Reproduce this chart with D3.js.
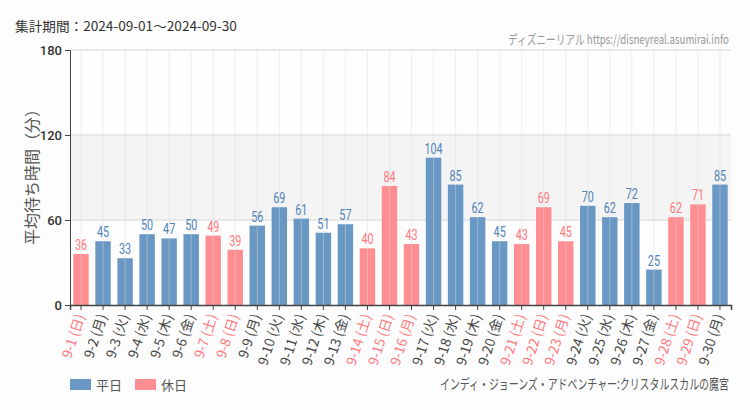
<!DOCTYPE html>
<html><head><meta charset="utf-8">
<script src="https://cdn.jsdelivr.net/npm/d3@7"></script>
<style>
body{margin:0;background:#fcfdfc;}
text{font-family:"Noto Sans CJK JP","Noto Sans",sans-serif;}
</style></head>
<body><svg id="c" width="750" height="410"></svg>
<script>
const dates = ["9-1","9-2","9-3","9-4","9-5","9-6","9-7","9-8","9-9","9-10","9-11","9-12","9-13","9-14","9-15","9-16","9-17","9-18","9-19","9-20","9-21","9-22","9-23","9-24","9-25","9-26","9-27","9-28","9-29","9-30"];
const weekdays = ["日","月","火","水","木","金","土","日","月","火","水","木","金","土","日","月","火","水","木","金","土","日","月","火","水","木","金","土","日","月"];
const values = [36,45,33,50,47,50,49,39,56,69,61,51,57,40,84,43,104,85,62,45,43,69,45,70,62,72,25,62,71,85];
const holiday = [1,0,0,0,0,0,1,1,0,0,0,0,0,1,1,1,0,0,0,0,1,1,1,0,0,0,0,1,1,0];
const yTicks = [0,60,120,180];

const colors = {weekday:"#6a98c5", holiday:"#ff8e93", wText:"#4f82b8", hText:"#ff777d"};
const svg = d3.select("#c");
const m = {l:70, r:731, t:50, b:305};
const x = d3.scaleBand().domain(dates).range([m.l, m.r]).paddingInner(0.3).paddingOuter(0.15);
const y = d3.scaleLinear().domain([0,180]).range([m.b, m.t]);

// background band 60-120
svg.append("rect").attr("x", m.l).attr("width", m.r-m.l).attr("y", y(120)).attr("height", y(60)-y(120)).attr("fill","#f3f4f3");

// horizontal grid
svg.append("g").selectAll("line").data(yTicks.slice(1)).join("line")
  .attr("x1", m.l).attr("x2", m.r).attr("y1", d=>y(d)).attr("y2", d=>y(d))
  .attr("stroke","#e2e2e2").attr("stroke-width",1.5);

// bars
svg.append("g").selectAll("rect").data(values).join("rect")
  .attr("x",(d,i)=>x(dates[i])).attr("width", x.bandwidth())
  .attr("y", d=>y(d)).attr("height", d=>y(0)-y(d))
  .attr("fill",(d,i)=>holiday[i]?colors.holiday:colors.weekday);

// vertical grid (drawn faintly over bars)
svg.append("g").selectAll("line").data(dates).join("line")
  .attr("x1", d=>x(d)+x.bandwidth()/2).attr("x2", d=>x(d)+x.bandwidth()/2)
  .attr("y1", m.t).attr("y2", m.b).attr("stroke","#dcdcdc").attr("stroke-opacity",0.45).attr("stroke-width",1);

// value labels (condensed)
svg.append("g").selectAll("text").data(values).join("text")
  .attr("transform",(d,i)=>`translate(${x(dates[i])+x.bandwidth()/2},${y(d)-4}) scale(0.72,1)`)
  .attr("text-anchor","middle")
  .style("font-family","Roboto,sans-serif")
  .style("font-size","15px")
  .attr("fill",(d,i)=>holiday[i]?colors.hText:colors.wText)
  .text(d=>d);

// y axis
const ya = svg.append("g").attr("transform",`translate(${m.l},0)`)
  .call(d3.axisLeft(y).tickValues(yTicks).tickSize(5).tickPadding(3));
ya.select(".domain").attr("stroke","#444");
ya.selectAll(".tick line").attr("stroke","#444");
ya.selectAll("text").style("font-family","Roboto,sans-serif").style("font-size","13px").style("font-weight","500").attr("fill","#333");

// x axis
const xa = svg.append("g").attr("transform",`translate(0,${m.b})`)
  .call(d3.axisBottom(x).tickSize(5).tickFormat(""));
xa.select(".domain").attr("stroke","#444").attr("stroke-width",1.5);
xa.selectAll(".tick line").attr("stroke","#444");

svg.append("g").selectAll("text").data(dates).join("text")
  .attr("transform",(d)=>`translate(${x(d)+x.bandwidth()/2+4},${m.b+11}) rotate(-72)`)
  .attr("text-anchor","end")
  .style("font-size","13.5px")
  .attr("fill",(d,i)=>holiday[i]?colors.hText:"#444")
  .text((d,i)=>`${d} (${weekdays[i]})`);

// fit a text into a given width by horizontal scaling (anchored at left x)
function fitText(sel, x0, y0, width){
  const w = sel.node().getComputedTextLength();
  const s = width / w;
  sel.attr("transform", `translate(${x0},${y0}) scale(${s},1)`);
}

// titles
fitText(svg.append("text").style("font-size","13px").attr("fill","#333")
  .text("集計期間：2024-09-01～2024-09-30"), 15, 31, 222);
fitText(svg.append("text").style("font-size","13px").attr("fill","#999")
  .text("ディズニーリアル https://disneyreal.asumirai.info"), 508, 44, 221);
svg.append("text").attr("transform","translate(38,173) rotate(-90)").attr("text-anchor","middle")
  .style("font-size","16px").attr("fill","#555").text("平均待ち時間（分）");

// legend
const legend = [["平日",colors.weekday,70],["休日",colors.holiday,135]];
legend.forEach(([t,c,lx])=>{
  svg.append("rect").attr("x",lx).attr("y",379).attr("width",21).attr("height",11).attr("fill",c);
  svg.append("text").attr("x",lx+26).attr("y",390).style("font-size","13px").attr("fill","#555").text(t);
});
fitText(svg.append("text").style("font-size","14px").attr("fill","#555")
  .text("インディ・ジョーンズ・アドベンチャー:クリスタルスカルの魔宮"), 440, 389, 289);
</script></body></html>
